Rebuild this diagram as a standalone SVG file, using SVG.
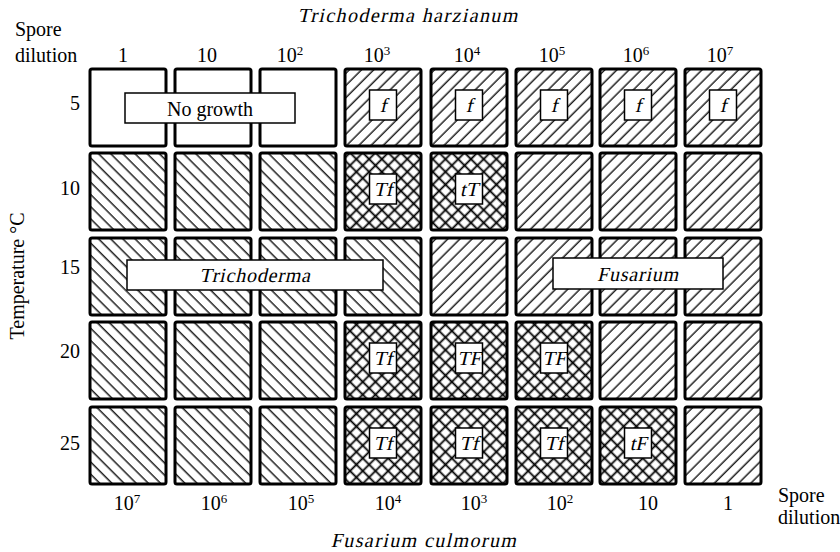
<svg xmlns="http://www.w3.org/2000/svg" width="840" height="552" viewBox="0 0 840 552">
<style>
.t{font-family:"Liberation Serif","Times New Roman",serif;font-size:20px;fill:#000}
.m{text-anchor:middle}
.c{stroke:#000;stroke-width:3}
.w{fill:#fff}
.F{fill:url(#fus)}
.T{fill:url(#tri)}
.X{fill:url(#cross)}
.b{fill:#fff;stroke:#000;stroke-width:1.5}
.sup{font-size:13px}
</style>
<defs>
<pattern id="fus" patternUnits="userSpaceOnUse" width="8.6" height="8.6" patternTransform="rotate(45)"><rect width="8.6" height="8.6" fill="#fff"/><line x1="4" y1="-1" x2="4" y2="10" stroke="#000" stroke-width="1.3"/></pattern>
<pattern id="tri" patternUnits="userSpaceOnUse" width="8.6" height="8.6" patternTransform="rotate(-45)"><rect width="8.6" height="8.6" fill="#fff"/><line x1="4" y1="-1" x2="4" y2="10" stroke="#000" stroke-width="1.3"/></pattern>
<pattern id="cross" patternUnits="userSpaceOnUse" width="9" height="9" patternTransform="rotate(45)"><rect width="9" height="9" fill="#fff"/><line x1="4.5" y1="-1" x2="4.5" y2="10" stroke="#000" stroke-width="1.8"/><line x1="-1" y1="4.5" x2="10" y2="4.5" stroke="#000" stroke-width="1.8"/></pattern>
</defs>
<rect width="840" height="552" fill="#fff"/>

<g id="axis-labels">
<g transform="translate(408,22) skewX(-13)"><text class="t m" font-size="18" letter-spacing="1.4">Trichoderma harzianum</text></g>
<text class="t" x="15" y="36">Spore</text>
<text class="t" x="15" y="62">dilution</text>
<text class="t m" x="123" y="62">1</text>
<text class="t m" x="207" y="62">10</text>
<text class="t m" x="290" y="62">10<tspan class="sup" dy="-7">2</tspan></text>
<text class="t m" x="377" y="62">10<tspan class="sup" dy="-7">3</tspan></text>
<text class="t m" x="467" y="62">10<tspan class="sup" dy="-7">4</tspan></text>
<text class="t m" x="552" y="62">10<tspan class="sup" dy="-7">5</tspan></text>
<text class="t m" x="636" y="62">10<tspan class="sup" dy="-7">6</tspan></text>
<text class="t m" x="720" y="62">10<tspan class="sup" dy="-7">7</tspan></text>
<text class="t" x="80" y="110" text-anchor="end">5</text>
<text class="t" x="80" y="195" text-anchor="end">10</text>
<text class="t" x="80" y="274" text-anchor="end">15</text>
<text class="t" x="80" y="358" text-anchor="end">20</text>
<text class="t" x="80" y="450" text-anchor="end">25</text>
<text class="t m" transform="translate(24,276) rotate(-90)">Temperature °C</text>
<text class="t m" x="127" y="510">10<tspan class="sup" dy="-7">7</tspan></text>
<text class="t m" x="214" y="510">10<tspan class="sup" dy="-7">6</tspan></text>
<text class="t m" x="301" y="510">10<tspan class="sup" dy="-7">5</tspan></text>
<text class="t m" x="388" y="510">10<tspan class="sup" dy="-7">4</tspan></text>
<text class="t m" x="474" y="510">10<tspan class="sup" dy="-7">3</tspan></text>
<text class="t m" x="560" y="510">10<tspan class="sup" dy="-7">2</tspan></text>
<text class="t m" x="648" y="510">10</text>
<text class="t m" x="728" y="510">1</text>
<text class="t" x="778" y="502" font-size="19">Spore</text>
<text class="t" x="778" y="524" font-size="19">dilution</text>
<g transform="translate(424,547) skewX(-13)"><text class="t m" font-size="18" letter-spacing="1.4">Fusarium culmorum</text></g>
</g>

<g id="connectors"></g>

<!-- Row 1 (5 °C) -->
<g id="r1c1"><rect class="c w" x="90" y="69" width="76" height="77" rx="2"/></g>
<g id="r1c2"><rect class="c w" x="175" y="69" width="76" height="77" rx="2"/></g>
<g id="r1c3"><rect class="c w" x="260" y="69" width="76" height="77" rx="2"/></g>
<g id="r1c4"><rect class="c F" x="345" y="69" width="76" height="77" rx="2"/><rect class="b" x="369.5" y="90" width="27" height="30"/><g transform="translate(383,112) skewX(-13)"><text class="t m">f</text></g></g>
<g id="r1c5"><rect class="c F" x="431" y="69" width="76" height="77" rx="2"/><rect class="b" x="455.5" y="90" width="27" height="30"/><g transform="translate(469,112) skewX(-13)"><text class="t m">f</text></g></g>
<g id="r1c6"><rect class="c F" x="516" y="69" width="76" height="77" rx="2"/><rect class="b" x="540.5" y="90" width="27" height="30"/><g transform="translate(554,112) skewX(-13)"><text class="t m">f</text></g></g>
<g id="r1c7"><rect class="c F" x="600" y="69" width="76" height="77" rx="2"/><rect class="b" x="624.5" y="90" width="27" height="30"/><g transform="translate(638,112) skewX(-13)"><text class="t m">f</text></g></g>
<g id="r1c8"><rect class="c F" x="685" y="69" width="76" height="77" rx="2"/><rect class="b" x="709.5" y="90" width="27" height="30"/><g transform="translate(723,112) skewX(-13)"><text class="t m">f</text></g></g>

<!-- Row 2 (10 °C) -->
<g id="r2c1"><rect class="c T" x="90" y="153" width="76" height="77" rx="2"/></g>
<g id="r2c2"><rect class="c T" x="175" y="153" width="76" height="77" rx="2"/></g>
<g id="r2c3"><rect class="c T" x="260" y="153" width="76" height="77" rx="2"/></g>
<g id="r2c4"><rect class="c X" x="345" y="153" width="76" height="77" rx="2"/><rect class="b" x="369.5" y="174" width="27" height="30"/><g transform="translate(383,196) skewX(-13)"><text class="t m">Tf</text></g></g>
<g id="r2c5"><rect class="c X" x="431" y="153" width="76" height="77" rx="2"/><rect class="b" x="455.5" y="174" width="27" height="30"/><g transform="translate(469,196) skewX(-13)"><text class="t m">tT</text></g></g>
<g id="r2c6"><rect class="c F" x="516" y="153" width="76" height="77" rx="2"/></g>
<g id="r2c7"><rect class="c F" x="600" y="153" width="76" height="77" rx="2"/></g>
<g id="r2c8"><rect class="c F" x="685" y="153" width="76" height="77" rx="2"/></g>

<!-- Row 3 (15 °C) -->
<g id="r3c1"><rect class="c T" x="90" y="238" width="76" height="77" rx="2"/></g>
<g id="r3c2"><rect class="c T" x="175" y="238" width="76" height="77" rx="2"/></g>
<g id="r3c3"><rect class="c T" x="260" y="238" width="76" height="77" rx="2"/></g>
<g id="r3c4"><rect class="c T" x="345" y="238" width="76" height="77" rx="2"/></g>
<g id="r3c5"><rect class="c F" x="431" y="238" width="76" height="77" rx="2"/></g>
<g id="r3c6"><rect class="c F" x="516" y="238" width="76" height="77" rx="2"/></g>
<g id="r3c7"><rect class="c F" x="600" y="238" width="76" height="77" rx="2"/></g>
<g id="r3c8"><rect class="c F" x="685" y="238" width="76" height="77" rx="2"/></g>

<!-- Row 4 (20 °C) -->
<g id="r4c1"><rect class="c T" x="90" y="322" width="76" height="77" rx="2"/></g>
<g id="r4c2"><rect class="c T" x="175" y="322" width="76" height="77" rx="2"/></g>
<g id="r4c3"><rect class="c T" x="260" y="322" width="76" height="77" rx="2"/></g>
<g id="r4c4"><rect class="c X" x="345" y="322" width="76" height="77" rx="2"/><rect class="b" x="369.5" y="343" width="27" height="30"/><g transform="translate(383,365) skewX(-13)"><text class="t m">Tf</text></g></g>
<g id="r4c5"><rect class="c X" x="431" y="322" width="76" height="77" rx="2"/><rect class="b" x="455.5" y="343" width="27" height="30"/><g transform="translate(469,365) skewX(-13)"><text class="t m">TF</text></g></g>
<g id="r4c6"><rect class="c X" x="516" y="322" width="76" height="77" rx="2"/><rect class="b" x="540.5" y="343" width="27" height="30"/><g transform="translate(554,365) skewX(-13)"><text class="t m">TF</text></g></g>
<g id="r4c7"><rect class="c F" x="600" y="322" width="76" height="77" rx="2"/></g>
<g id="r4c8"><rect class="c F" x="685" y="322" width="76" height="77" rx="2"/></g>

<!-- Row 5 (25 °C) -->
<g id="r5c1"><rect class="c T" x="90" y="407" width="76" height="77" rx="2"/></g>
<g id="r5c2"><rect class="c T" x="175" y="407" width="76" height="77" rx="2"/></g>
<g id="r5c3"><rect class="c T" x="260" y="407" width="76" height="77" rx="2"/></g>
<g id="r5c4"><rect class="c X" x="345" y="407" width="76" height="77" rx="2"/><rect class="b" x="369.5" y="428" width="27" height="30"/><g transform="translate(383,450) skewX(-13)"><text class="t m">Tf</text></g></g>
<g id="r5c5"><rect class="c X" x="431" y="407" width="76" height="77" rx="2"/><rect class="b" x="455.5" y="428" width="27" height="30"/><g transform="translate(469,450) skewX(-13)"><text class="t m">Tf</text></g></g>
<g id="r5c6"><rect class="c X" x="516" y="407" width="76" height="77" rx="2"/><rect class="b" x="540.5" y="428" width="27" height="30"/><g transform="translate(554,450) skewX(-13)"><text class="t m">Tf</text></g></g>
<g id="r5c7"><rect class="c X" x="600" y="407" width="76" height="77" rx="2"/><rect class="b" x="624.5" y="428" width="27" height="30"/><g transform="translate(638,450) skewX(-13)"><text class="t m">tF</text></g></g>
<g id="r5c8"><rect class="c F" x="685" y="407" width="76" height="77" rx="2"/></g>

<!-- Banners -->
<g id="no-growth"><rect class="b" x="125" y="93" width="170" height="30"/><text class="t m" x="210" y="116" font-size="21">No growth</text></g>
<g id="trichoderma"><rect class="b" x="127" y="260" width="256" height="30"/><g transform="translate(255,282) skewX(-13)"><text class="t m" letter-spacing="0.8">Trichoderma</text></g></g>
<g id="fusarium"><rect class="b" x="553" y="258" width="170" height="31"/><g transform="translate(638,281) skewX(-13)"><text class="t m" letter-spacing="0.8">Fusarium</text></g></g>
</svg>
